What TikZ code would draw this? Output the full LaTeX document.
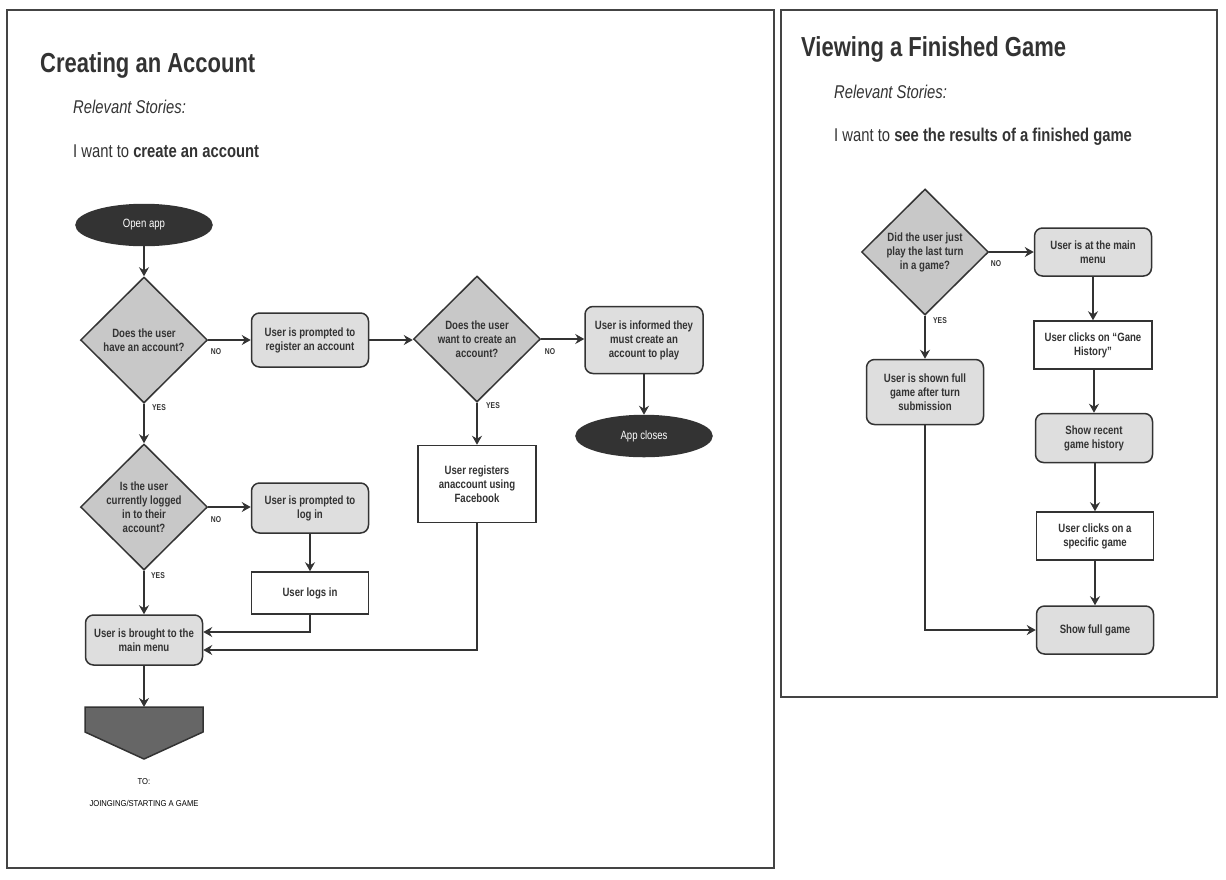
\documentclass[tikz,border=0pt]{standalone}
\usepackage{fontspec}
\setmainfont{Liberation Sans}[FakeStretch=0.8]
\newfontfamily\smallfnt{Liberation Sans}[FakeStretch=0.9]
\usetikzlibrary{shapes.geometric,arrows.meta,positioning}
\definecolor{ink}{HTML}{333333}
\definecolor{frame}{HTML}{444444}
\definecolor{dia}{HTML}{C8C8C8}
\definecolor{proc}{HTML}{DEDEDE}
\definecolor{term}{HTML}{333333}
\definecolor{offp}{HTML}{666666}
\tikzset{
  arr/.style={draw=ink,line width=1.5pt,-{Stealth[length=9pt,width=10pt,inset=3pt]}},
  ln/.style={draw=ink,line width=1.5pt},
  panel/.style={draw=frame,line width=1.5pt},
  diashape/.style={diamond,draw=ink,line width=1.5pt,fill=dia,minimum width=127pt,minimum height=126pt,inner sep=0pt},
  diatext/.style={align=center,font=\fontsize{12}{14}\selectfont\bfseries,text=ink,inner sep=0pt},
  rbox/.style={rectangle,rounded corners=8pt,draw=ink,line width=1.5pt,fill=proc,minimum width=117pt,align=center,font=\fontsize{12}{14}\selectfont\bfseries,text=ink,inner sep=2pt},
  sbox/.style={rectangle,draw=ink,line width=1.5pt,fill=white,minimum width=117pt,align=center,font=\fontsize{12}{14}\selectfont\bfseries,text=ink,inner sep=2pt},
  termin/.style={ellipse,draw=ink,line width=1.5pt,fill=term,minimum width=136pt,minimum height=41pt,font=\fontsize{12}{14}\selectfont,text=white,inner sep=0pt},
  yn/.style={font=\fontsize{8.5}{9}\selectfont\bfseries,text=ink,inner sep=0pt},
  title/.style={font=\fontsize{27.5}{32}\selectfont\bfseries,text=ink,anchor=base west,inner sep=0pt},
  story/.style={font=\fontsize{18.5}{22}\selectfont,text=ink,anchor=base west,inner sep=0pt},
  smalltxt/.style={font=\smallfnt\fontsize{8.5}{9}\selectfont,text=black},
}
\begin{document}
\begin{tikzpicture}[x=1pt,y=-1pt]
\useasboundingbox (0,0) rectangle (1226,879);
% panels
\draw[panel] (7,10) rectangle (774,868);
\draw[panel] (781,10) rectangle (1217,697);

% headings left
\node[title] (t1) at (40,72) {Creating an Account};
\node[story] (s1) at (73,113) {\itshape Relevant Stories:};
\node[story] (s2) at (73,157) {I want to \textbf{create an account}};
% headings right
\node[title] (t2) at (801,56) {Viewing a Finished Game};
\node[story] (s3) at (834,98) {\itshape Relevant Stories:};
\node[story] (s4) at (834,141) {I want to \textbf{see the results of a finished game}};

% ---------- left flowchart ----------
\node[termin] (open) at (144,225) {Open app};
\node[diashape] (d1) at (144,340) {};
\node[diatext] at (d1) {Does the user\\have an account?};
\node[rbox,minimum height=54pt] (reg) at (310,340) {User is prompted to\\register an account};
\node[diashape] (d2) at (477,339) {};
\node[diatext] at (d2) {Does the user\\want to create an\\account?};
\node[rbox,minimum height=67pt,minimum width=118pt] (inf) at (644,340) {User is informed they\\must create an\\account to play};
\node[termin] (close) at (644,436) {App closes};
\node[sbox,minimum height=77pt,minimum width=118pt] (fb) at (477,484) {User registers\\anaccount using\\Facebook};
\node[diashape] (d3) at (144,507) {};
\node[diatext] at (d3) {Is the user\\currently logged\\in to their\\account?};
\node[rbox,minimum height=50pt] (login) at (310,508) {User is prompted to\\log in};
\node[sbox,minimum height=42pt] (logs) at (310,593) {User logs in};
\node[rbox,minimum height=50pt] (mm) at (144,640) {User is brought to the\\main menu};
% off-page connector
\coordinate (pent) at (144,707);
\draw[ln,fill=offp] (85,707) -- (203,707) -- (203,732) -- (144,759) -- (85,732) -- cycle;
\node[smalltxt] (to) at (144,782) {TO:};
\node[smalltxt] (join) at (144,803) {JOINGING/STARTING A GAME};

% connectors left
\draw[arr] (open) -- (d1.north);
\draw[arr] (d1.east) -- (reg.west);
\draw[arr] (reg.east) -- (reg.east -| d2.west);
\draw[arr] (d2.east) -- (d2.east -| inf.west);
\draw[arr] (inf.south) -- (close.north);
\draw[arr] (d2.south) -- (fb.north);
\draw[arr] (d1.south) -- (d3.north);
\draw[arr] (d3.east) -- (d3.east -| login.west);
\draw[arr] (login.south) -- (logs.north);
\draw[arr] (d3.south) -- (mm.north);
\draw[arr] (logs.south) |- ([yshift=8pt]mm.east);
\draw[arr] (fb.south) |- ([yshift=-10pt]mm.east);
\draw[arr] (mm.south) -- (pent);

\node[yn] (no1) at (216,352) {NO};
\node[yn] (yes1) at (159,408) {YES};
\node[yn] (no2) at (550,352) {NO};
\node[yn] (yes2) at (493,406) {YES};
\node[yn] (no3) at (216,520) {NO};
\node[yn] (yes3) at (158,576) {YES};

% ---------- right flowchart ----------
\node[diashape] (e1) at (925,252) {};
\node[diatext] at (e1) {Did the user just\\play the last turn\\in a game?};
\node[rbox,minimum height=48pt] (atmm) at (1093,252) {User is at the main\\menu};
\node[sbox,minimum height=48pt,minimum width=118pt] (gh) at (1093,345) {User clicks on ``Gane\\History''};
\node[rbox,minimum height=49pt] (rec) at (1094,438) {Show recent\\game history};
\node[sbox,minimum height=48pt] (spec) at (1095,536) {User clicks on a\\specific game};
\node[rbox,minimum height=48pt] (full) at (1095,630) {Show full game};
\node[rbox,minimum height=65pt] (shown) at (925,392) {User is shown full\\game after turn\\submission};

\draw[arr] (e1.east) -- (e1.east -| atmm.west);
\draw[arr] (atmm.south) -- (atmm.south |- gh.north);
\draw[arr] (rec.north |- gh.south) -- (rec.north);
\draw[arr] (spec.north |- rec.south) -- (spec.north);
\draw[arr] (spec.south) -- (full.north);
\draw[arr] (e1.south) -- (shown.north);
\draw[arr] (shown.south) |- (full.west);

\node[yn] (no4) at (996,264) {NO};
\node[yn] (yes4) at (940,321) {YES};
\end{tikzpicture}
\end{document}
